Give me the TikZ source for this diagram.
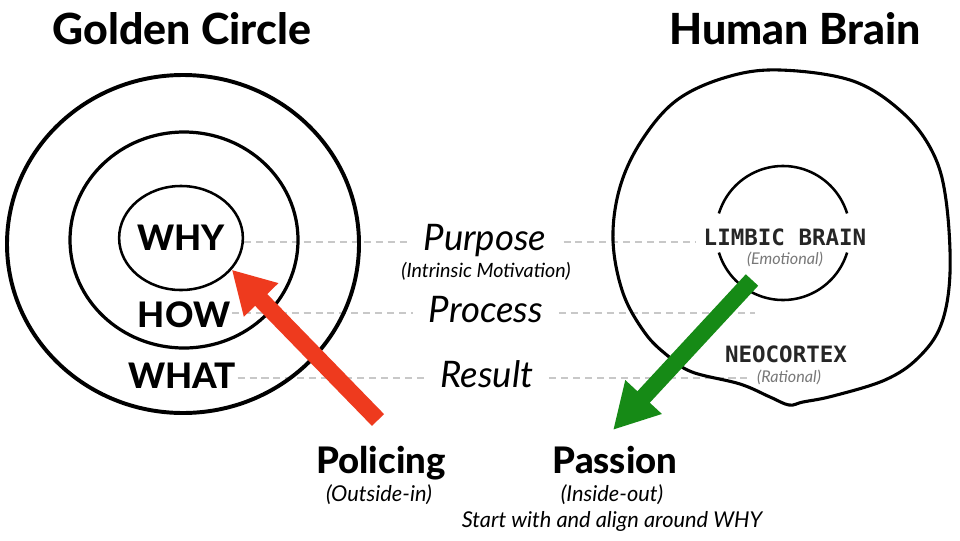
\documentclass[tikz,border=0pt]{standalone}
\usepackage{fontspec}
\setmainfont{Lato}
\newfontfamily\heavyfont{Lato Heavy}
\newfontfamily\brainfont{DejaVu Sans Mono}
\usetikzlibrary{arrows.meta,shapes.geometric}
\definecolor{policered}{RGB}{238,58,30}
\definecolor{passiongreen}{RGB}{22,138,22}
\definecolor{guidegrey}{RGB}{200,200,200}
\definecolor{notegrey}{RGB}{120,120,120}
\tikzset{
  title/.style={font=\heavyfont\fontsize{30.5pt}{36pt}\selectfont,anchor=base,inner sep=0pt},
  bigword/.style={font=\heavyfont\fontsize{25pt}{30pt}\selectfont,anchor=base,inner sep=1pt},
  verdict/.style={font=\heavyfont\fontsize{26pt}{31pt}\selectfont,anchor=base,inner sep=0pt},
  rowword/.style={font=\itshape\fontsize{26pt}{31pt}\selectfont,anchor=base,inner sep=0pt},
  note/.style={font=\itshape\fontsize{15.5pt}{18pt}\selectfont,anchor=base,inner sep=0pt},
  brainword/.style={font=\brainfont\bfseries\fontsize{16pt}{19pt}\selectfont,anchor=base,inner sep=0pt,text=black!85},
  brainnote/.style={font=\itshape\fontsize{11.5pt}{13pt}\selectfont,anchor=base,inner sep=0pt,text=notegrey},
  guide/.style={guidegrey,line width=1.1pt,dash pattern=on 5pt off 3.5pt},
  ring/.style={black,line width=2.6pt},
  bigarrow/.style={line width=12pt,-{Triangle[length=30pt,width=32pt]}}
}
\begin{document}
\begin{tikzpicture}[x=0.025cm,y=-0.025cm]
  \path[fill=white] (0,0) rectangle (960,540);
  \useasboundingbox (0,0) rectangle (960,540);
  % titles
  \node[title] (gcTitle) at (182,44) {Golden Circle};
  \node[title] (hbTitle) at (795,44) {Human Brain};
  % golden circle words
  \node[ellipse,draw,line width=1.8pt,minimum width=2.75cm,minimum height=2.6cm,inner sep=0pt,
        font=\heavyfont\fontsize{25pt}{30pt}\selectfont] (whyRing) at (181,238) {WHY};
  \node[bigword] (how) at (184,327) {HOW};
  \node[bigword] (what) at (182,388) {WHAT};
  % middle column
  \node[rowword] (purpose) at (485,250) {Purpose};
  \node[note,font=\itshape\fontsize{14pt}{17pt}\selectfont] (intrinsic) at (486,277) {(Intrinsic Motivation)};
  \node[rowword] (process) at (486,322) {Process};
  \node[rowword] (result) at (487,387) {Result};
  % brain words
  \node[brainword] (limbic) at (785,245) {LIMBIC BRAIN};
  \node[brainnote] (emotional) at (785,264) {(Emotional)};
  \node[brainword] (neocortex) at (786,362) {NEOCORTEX};
  \node[brainnote] (rational) at (789,382) {(Rational)};
  % bottom words
  \node[verdict] (policing) at (381,473) {Policing};
  \node[note] (outsidein) at (379,501) {(Outside-in)};
  \node[verdict] (passion) at (615,473) {Passion};
  \node[note] (insideout) at (612,501) {(Inside-out)};
  \node[note] (startwhy) at (612,527) {Start with and align around WHY};
  % dashed rows
  \coordinate (rowA) at (0,242);
  \coordinate (rowB) at (0,313);
  \coordinate (rowC) at (0,378);
  \coordinate (procEnd) at (755,313);
  \foreach \a/\b/\r in {whyRing/purpose/rowA, how/process/rowB, what/result/rowC}{
    \draw[guide,shorten >=11pt] (\a.east |- \r) -- (\b.west |- \r);}
  \draw[guide,shorten <=12pt,shorten >=6pt] (purpose.east |- rowA) -- (limbic.west |- rowA);
  \draw[guide,shorten <=11pt] (process.east |- rowB) -- (procEnd);
  \draw[guide,shorten <=11pt,shorten >=6pt] (result.east |- rowC) -- (rational.west |- rowC);
  % rings
  \draw[ring,line width=2.3pt] (184,240) ellipse[x radius=114,y radius=108];
  \draw[ring,line width=2.8pt] (183,244) ellipse[x radius=176,y radius=169];
  \draw[ring,line width=2.2pt,line join=round] plot[smooth cycle,tension=0.6] coordinates {
    (780,70) (853,81) (903,113) (933,153) (946,200) (950,273) (941,325) (918,358)
    (885,380) (833,396) (803,402) (789,405) (770,397) (740,384) (692,372) (668,356)
    (645,333) (623,293) (613,240) (620,187) (642,140) (677,100) (727,77)};
  \draw[ring,line width=1.8pt] (783,233) ++(17:67) arc[start angle=17,end angle=163,radius=67];
  \draw[ring,line width=1.8pt] (783,233) ++(197:67) arc[start angle=197,end angle=343,radius=67];
  % arrows
  \coordinate (polTail) at (378,420);
  \coordinate (limbTail) at (752,280);
  \coordinate (passTip) at (613,430);
  \draw[bigarrow,policered] (polTail) -- (whyRing.-32);
  \draw[bigarrow,passiongreen,-{Triangle[length=32pt,width=33pt]}] (limbTail) -- (passTip);
\end{tikzpicture}
\end{document}
